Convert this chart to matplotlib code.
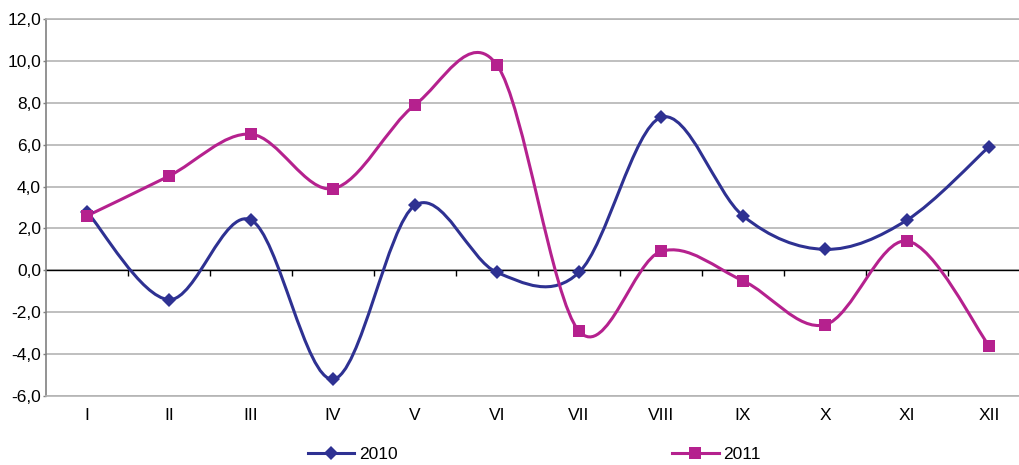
import numpy as np
import matplotlib
matplotlib.use("Agg")
import matplotlib.pyplot as plt
from matplotlib.path import Path
from matplotlib.patches import PathPatch
from matplotlib.lines import Line2D
from matplotlib.ticker import FuncFormatter

plt.rcParams['font.family'] = ['Liberation Sans', 'DejaVu Sans']

months = ['I', 'II', 'III', 'IV', 'V', 'VI', 'VII', 'VIII', 'IX', 'X', 'XI', 'XII']
v2010 = [2.8, -1.4, 2.4, -5.2, 3.1, -0.1, -0.1, 7.3, 2.6, 1.0, 2.4, 5.9]
v2011 = [2.6, 4.5, 6.5, 3.9, 7.9, 9.8, -2.9, 0.9, -0.5, -2.6, 1.4, -3.6]

c2010 = '#2e3192'
c2011 = '#b5218e'
grid_c = '#b4b4b4'


def smooth_path(xs, ys):
    # excel-like smoothed line: bezier segments, catmull-rom style handles
    pts = np.column_stack([xs, ys]).astype(float)
    n = len(pts)
    verts = [pts[0]]
    codes = [Path.MOVETO]
    for i in range(n - 1):
        p0 = pts[i - 1] if i > 0 else pts[i]
        p1 = pts[i]
        p2 = pts[i + 1]
        p3 = pts[i + 2] if i + 2 < n else pts[i + 1]
        verts += [p1 + (p2 - p0) / 6, p2 - (p3 - p1) / 6, p2]
        codes += [Path.CURVE4] * 3
    return Path(verts, codes)


fig = plt.figure(figsize=(10.19, 4.65), dpi=100)
ax = fig.add_axes([0.0451, 0.1484, 0.9657, 0.8108])

x = np.arange(len(months))
for vals, col, mk, ms in [(v2010, c2010, 'D', 7), (v2011, c2011, 's', 8.5)]:
    ax.add_patch(PathPatch(smooth_path(x, vals), facecolor='none', edgecolor=col,
                           lw=2.2, zorder=3, capstyle='round', joinstyle='round'))
    ax.plot(x, vals, linestyle='none', marker=mk, ms=ms, color=col, zorder=4,
            markeredgewidth=0)

ax.set_xlim(-0.5, 11.5)
ax.set_ylim(-6, 12)
ax.set_yticks(np.arange(-6, 13, 2))
ax.yaxis.set_major_formatter(FuncFormatter(lambda v, p: f'{v:.1f}'.replace('.', ',')))
ax.set_xticks(x)
ax.set_xticklabels(months)
ax.tick_params(axis='x', length=0, pad=9, labelsize=12.5)
ax.tick_params(axis='y', length=2.5, width=1, color='#808080', pad=1, labelsize=12.5)

ax.grid(axis='y', color=grid_c, lw=1.2, zorder=1)
ax.axhline(0, color='black', lw=1, zorder=2)
# category boundary tick marks hanging under the zero line
ax.plot(x[:-1] + 0.5, np.zeros(len(x) - 1), linestyle='none', marker=3, ms=4,
        color='black', mew=1, zorder=2)

for s in ['top', 'bottom']:
    ax.spines[s].set_color(grid_c)
    ax.spines[s].set_linewidth(1.2)
ax.spines['right'].set_visible(False)
ax.spines['left'].set_color('#808080')
ax.spines['left'].set_linewidth(1.2)

handles = [Line2D([], [], color=c2010, lw=2.2, marker='D', ms=7, mew=0),
           Line2D([], [], color=c2011, lw=2.2, marker='s', ms=8.5, mew=0)]
fig.legend(handles, ['2010', '2011'], loc='center', bbox_to_anchor=(0.524, 0.022),
           ncol=2, frameon=False, fontsize=12.5, handlelength=2.7,
           handletextpad=0.25, columnspacing=15.8, borderpad=0)

fig.savefig('out.png', dpi=100)
